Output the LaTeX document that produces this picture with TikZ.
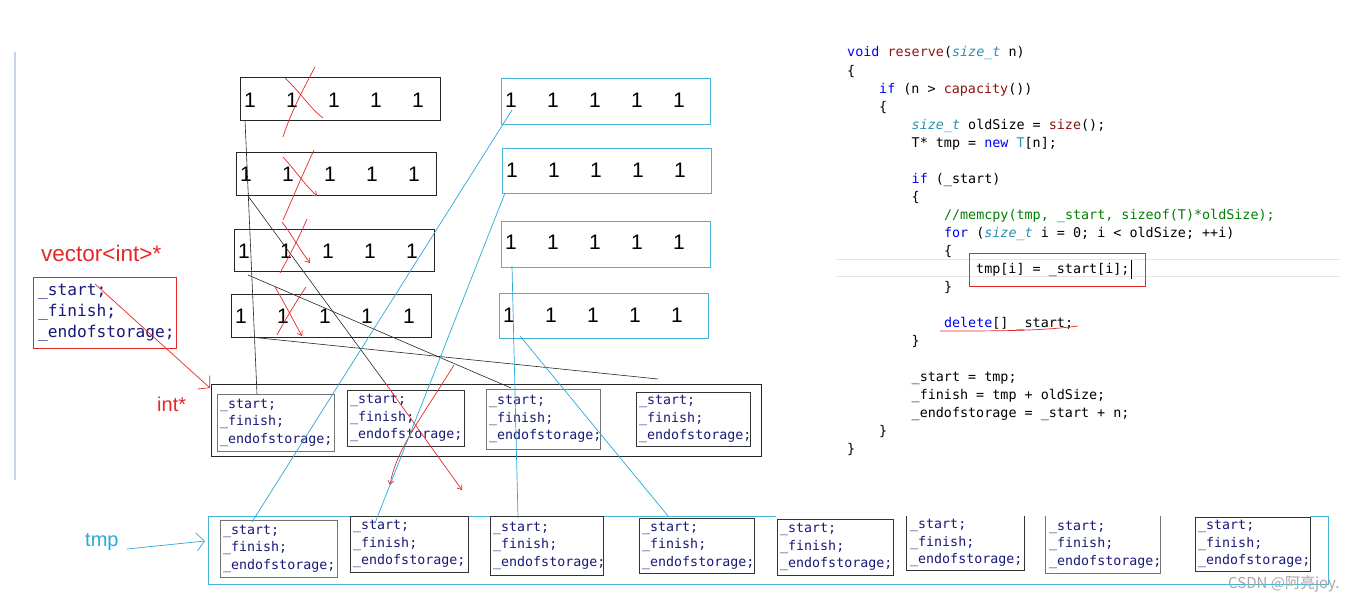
\documentclass[tikz,border=0pt]{standalone}
\usepackage{fontspec}
\setmainfont{Liberation Sans}
\newfontfamily\cmono{DejaVu Sans Mono}
\newfontfamily\cjkfont{Noto Sans CJK SC}
\usetikzlibrary{arrows.meta,calc}
\definecolor{navy}{RGB}{25,25,120}
\definecolor{kwblue}{RGB}{0,0,255}
\definecolor{fnred}{RGB}{140,20,20}
\definecolor{tyteal}{RGB}{43,145,175}
\definecolor{cmgreen}{RGB}{0,128,0}
\definecolor{penred}{RGB}{228,40,40}
\definecolor{pencyan}{RGB}{40,170,215}
\definecolor{boxcyan}{RGB}{70,180,215}
\definecolor{faint}{RGB}{200,212,232}
\newcommand\kw[1]{\textcolor{kwblue}{#1}}
\newcommand\fn[1]{\textcolor{fnred}{#1}}
\newcommand\ty[1]{\textcolor{tyteal}{\itshape #1}}
\newcommand\cm[1]{\textcolor{cmgreen}{#1}}
\newcommand\numgap{\hspace{30.3pt}}
% array of five 1s: name, x1, y1, x2, y2, baseline, style
\newcommand\arrbox[7]{%
  \node[#7, minimum width={(#4)-(#2)}, minimum height={(#5)-(#3)}] (#1) at ({((#2)+(#4))/2},{((#3)+(#5))/2}) {};
  \node[numtxt, anchor=base west] (#1n) at ({(#2)+4},#6) {1\numgap1\numgap1\numgap1\numgap1};
}
% struct box: name, x1, y1, x2, y2, style
\newcommand\stbox[6]{%
  \node[#6, minimum width={(#4)-(#2)}, minimum height={(#5)-(#3)}] (#1) at ({((#2)+(#4))/2},{((#3)+(#5))/2}) {};
  \node[sttxt, anchor=west] (#1t) at ({(#2)+3},{((#3)+(#5))/2}) {\_start;\\\_finish;\\\_endofstorage;};
}
\begin{document}
\begin{tikzpicture}[x=1pt,y=-1pt,
  arrbk/.style={draw=black!85, line width=0.9pt, inner sep=0pt},
  arrcy/.style={draw=boxcyan, line width=0.9pt, inner sep=0pt},
  numtxt/.style={font=\fontsize{21}{21}\selectfont, inner sep=0pt, text=black},
  sbk/.style={draw=black!80, line width=0.9pt, inner sep=0pt},
  sgy/.style={draw=black!55, line width=1pt, inner sep=0pt},
  snone/.style={inner sep=0pt},
  sttxt/.style={font=\cmono\fontsize{13.3}{17.5}\selectfont, text=navy, align=left, inner sep=0pt},
  code/.style={font=\cmono\fontsize{13.4}{18}\selectfont, anchor=base west, inner sep=0pt},
  blk/.style={draw=black!85, line width=0.6pt},
  redpen/.style={draw=penred, line width=0.7pt},
  cypen/.style={draw=pencyan, line width=0.7pt},
  barb/.style={-{Straight Barb[length=8pt,width=18pt]}},
  smallbarb/.style={-{Straight Barb[length=4pt,width=6pt]}},
]
\fill[white] (0,0) rectangle (1360,602);
\useasboundingbox (0,0) rectangle (1360,602);

% faint left rule
\draw[faint, line width=1.5pt] (15,52) -- (15,480);

% old arrays (black)
\arrbox{k1}{240}{77}{440}{120}{107}{arrbk}
\arrbox{k2}{236}{152}{436}{195}{181}{arrbk}
\arrbox{k3}{234}{229}{434}{271}{258}{arrbk}
\arrbox{k4}{231}{294}{431}{337}{323}{arrbk}
% new arrays (cyan)
\arrbox{c1}{501}{78}{710}{124}{107}{arrcy}
\arrbox{c2}{502}{148}{711}{193}{177}{arrcy}
\arrbox{c3}{501}{221}{710}{267}{249}{arrcy}
\arrbox{c4}{499}{293}{708}{338}{322}{arrcy}

% labels
\node[text=penred, font=\fontsize{22.5}{22.5}\selectfont, anchor=base west, inner sep=0pt] (veclbl) at (41,261) {vector<int>*};
\node[text=penred, font=\fontsize{20}{20}\selectfont, anchor=base west, inner sep=0pt] (intlbl) at (157,411) {int*};
\node[text=pencyan, font=\fontsize{20}{20}\selectfont, anchor=base west, inner sep=0pt] (tmplbl) at (85,546) {tmp};

% vector<int>* struct
\node[draw=penred, line width=0.9pt, minimum width=143, minimum height=71, inner sep=0pt] (vec) at (104.5,312.5) {};
\node[sttxt, font=\cmono\fontsize{16.2}{21}\selectfont, anchor=west] (vect) at (38,313) {\_start;\\\_finish;\\\_endofstorage;};

% old vector array
\node[draw=black!85, line width=0.9pt, minimum width=550, minimum height=72, inner sep=0pt] (oldvec) at (486,420) {};
\stbox{o1}{217}{394}{334}{451}{sgy}
\stbox{o2}{347}{390}{464}{446}{sbk}
\stbox{o3}{486}{389}{600}{449}{sgy}
\stbox{o4}{636}{392}{750}{446}{sbk}

% tmp frame
\draw[boxcyan, line width=0.9pt] (776,516) -- (208,516) -- (208,584) -- (1328,584) -- (1328,516) -- (1310,516);
\stbox{n1}{220}{520}{337}{577}{sgy}
\stbox{n2}{350}{516}{468}{572}{sbk}
\stbox{n3}{490}{516}{603}{575}{sbk}
\stbox{n4}{639}{518}{754}{573}{sbk}
\stbox{n5}{777}{519}{893}{575}{sbk}
\stbox{n6}{907}{516}{1024}{570}{snone}
\stbox{n7}{1046}{516}{1160}{573}{snone}
\stbox{n8}{1195}{517}{1310}{571}{sbk}
\draw[black!80, line width=0.9pt] (n6.north west) -- (n6.south west) -- (n6.south east) -- (n6.north east);
\draw[black!55, line width=1pt] (n7.north west) -- (n7.south west) -- (n7.south east) -- (n7.north east);

% code
\draw[black!10, line width=1pt] (836,259) -- (1340,259);
\draw[black!10, line width=1pt] (836,276) -- (1340,276);
\node[code] (l0) at (847,57) {\kw{void} \fn{reserve}(\ty{size\_t} n)};
\node[code] (l1) at (847,75) {\{};
\node[code] (l2) at (879,93) {\kw{if} (n > \fn{capacity}())};
\node[code] (l3) at (879,111) {\{};
\node[code] (l4) at (911.5,129) {\ty{size\_t} oldSize = \fn{size}();};
\node[code] (l5) at (911.5,147) {T* tmp = \kw{new} \textcolor{tyteal}{T}[n];};
\node[code] (l7) at (911.5,183) {\kw{if} (\_start)};
\node[code] (l8) at (911.5,201) {\{};
\node[code] (l9) at (943.8,219) {\cm{//memcpy(tmp, \_start, sizeof(T)*oldSize);}};
\node[code] (l10) at (943.8,237) {\kw{for} (\ty{size\_t} i = 0; i < oldSize; ++i)};
\node[code] (l11) at (943.8,255) {\{};
\node[code] (l12) at (976,273) {tmp[i] = \_start[i];};
\node[code] (l13) at (943.8,291) {\}};
\node[code] (l15) at (943.8,327) {\kw{delete}[] \_start;};
\node[code] (l16) at (911.5,345) {\}};
\node[code] (l18) at (911.5,381) {\_start = tmp;};
\node[code] (l19) at (911.5,399) {\_finish = tmp + oldSize;};
\node[code] (l20) at (911.5,417) {\_endofstorage = \_start + n;};
\node[code] (l21) at (879,435) {\}};
\node[code] (l22) at (847,453) {\}};
\node[draw=penred, line width=0.8pt, minimum width=176, minimum height=33, inner sep=0pt] (hl) at (1057,269.5) {};
\draw[black, line width=0.6pt] (1131,260) -- (1131,279);
\draw[redpen] (940,331) .. controls (1000,331) and (1040,331) .. (1078,326);

% watermark
\node[text=black!35, font=\cjkfont\fontsize{15}{15}\selectfont, anchor=west, inner sep=0pt] (wm) at (1228,584) {CSDN @阿亮joy.};

% black pointer lines
\coordinate (b1a) at (245,120); \coordinate (b1b) at (257,394);
\coordinate (b2a) at (248,196); \coordinate (b2b) at (386,384);
\coordinate (b3a) at (248,275); \coordinate (b3b) at (511,388);
\coordinate (b4a) at (250,337); \coordinate (b4b) at (658,379);
\draw[blk] (b1a) -- (b1b);
\draw[blk] (b2a) -- (b2b);
\draw[blk] (b3a) -- (b3b);
\draw[blk] (b4a) -- (b4b);

% red crosses
\draw[redpen] (285,78) .. controls (300,92) and (310,108) .. (323,118);
\draw[redpen] (315,67) .. controls (300,95) and (290,115) .. (283,137);
\draw[redpen, smallbarb] (283,157) .. controls (295,170) and (305,185) .. (317,196);
\draw[redpen] (314,150) .. controls (300,180) and (292,200) .. (283,220);
\draw[redpen, smallbarb] (282,222) .. controls (292,235) and (300,250) .. (310,263);
\draw[redpen] (307,219) .. controls (298,240) and (288,258) .. (280,273);
\draw[redpen, smallbarb] (275,287) .. controls (284,302) and (293,320) .. (302,336);
\draw[redpen] (306,287) .. controls (296,302) and (285,320) .. (277,335);
% red arrows
\coordinate (rv) at (95,284); \coordinate (rvend) at (210,388);
\draw[redpen, barb] (rv) -- (rvend);
\coordinate (rs1) at (462,490);
\draw[redpen, smallbarb] (b2b) -- (rs1);
\coordinate (rs2a) at (454,365); \coordinate (rs2b) at (390,485);
\draw[redpen, smallbarb] (rs2a) .. controls (420,420) and (396,450) .. (rs2b);

% cyan pointer lines
\coordinate (q1a) at (512,110); \coordinate (q1b) at (252,522);
\coordinate (q2a) at (505,193); \coordinate (q2b) at (375,523);
\coordinate (q3a) at (512,266); \coordinate (q3b) at (518,518);
\coordinate (q4a) at (520,336); \coordinate (q4b) at (668,516);
\draw[cypen] (q1a) -- (q1b);
\draw[cypen] (q2a) -- (q2b);
\draw[cypen] (q3a) -- (q3b);
\draw[cypen] (q4a) -- (q4b);
\coordinate (tmpstart) at (127,549);
\coordinate (tmpend) at (205,541);
\draw[cypen, barb] (tmpstart) -- (tmpend);
\end{tikzpicture}
\end{document}
